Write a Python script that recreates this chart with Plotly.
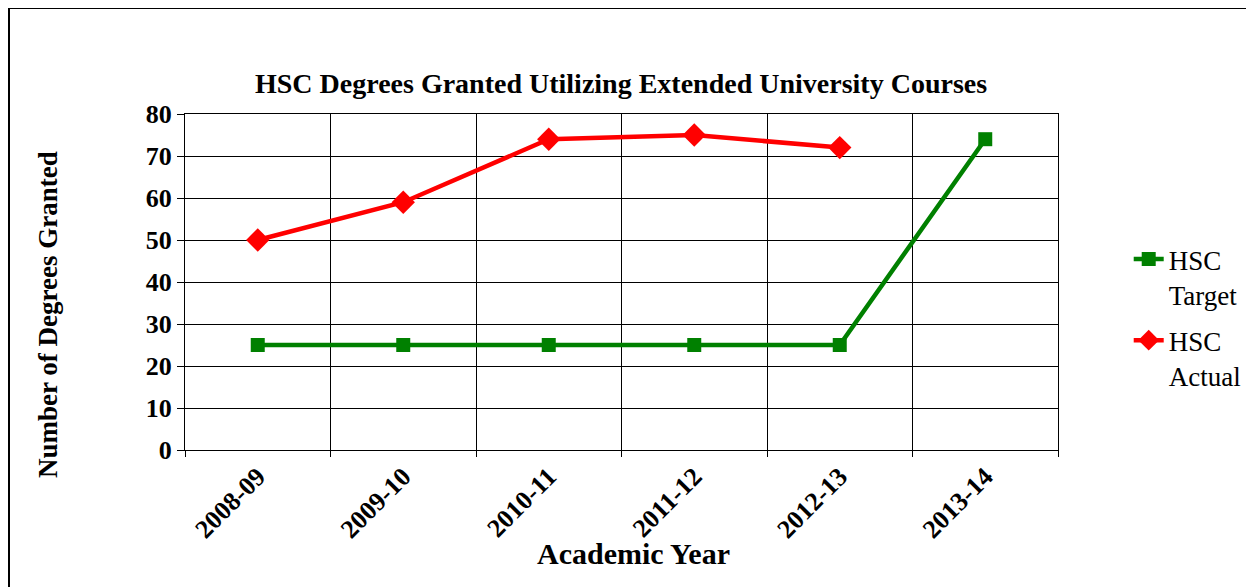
import plotly.graph_objects as go

years = ["2008-09", "2009-10", "2010-11", "2011-12", "2012-13", "2013-14"]
target = [25, 25, 25, 25, 25, 74]
actual = [50, 59, 74, 75, 72, None]

FONT = "Liberation Serif"

fig = go.Figure()
fig.add_trace(go.Scatter(
    x=years, y=target, name="HSC<br>Target", mode="lines+markers",
    legendgroup="t",
    line=dict(color="#008000", width=4.5),
    marker=dict(symbol="square", size=14, color="#008000"),
))
fig.add_trace(go.Scatter(
    x=years, y=actual, name="HSC<br>Actual", mode="lines+markers",
    legendgroup="a",
    line=dict(color="#FF0000", width=4.5),
    marker=dict(symbol="diamond", size=18, color="#FF0000"),
))

# plot area in page pixels: x 185..1058, y 114..450 (page body has 8px margin)
fig.update_layout(
    width=1254, height=587,
    margin=dict(l=177, r=204, t=106, b=145),
    paper_bgcolor="white", plot_bgcolor="white",
    font=dict(family=FONT, color="black"),
    showlegend=True,
    legend=dict(x=1.081, y=0.64, xanchor="left", yanchor="top", valign="top",
                font=dict(family=FONT, size=27, color="black"),
                bgcolor="rgba(0,0,0,0)", tracegroupgap=8),
    annotations=[
        dict(text="<b>HSC Degrees Granted Utilizing Extended University Courses</b>",
             xref="paper", yref="paper", x=0.4995, y=(450 - 83) / 336,
             xanchor="center", yanchor="middle", showarrow=False,
             font=dict(family=FONT, size=28, color="black")),
        dict(text="<b>Academic Year</b>", xref="paper", yref="paper",
             x=(633 - 185) / 873, y=(450 - 553) / 336, xanchor="center", yanchor="middle",
             showarrow=False, font=dict(family=FONT, size=30, color="black")),
        dict(text="<b>Number of Degrees Granted</b>", xref="paper", yref="paper",
             x=(48 - 185) / 873, y=(450 - 315) / 336, xanchor="center", yanchor="middle",
             textangle=-90, showarrow=False, font=dict(family=FONT, size=27, color="black")),
    ],
    shapes=[
        dict(type="rect", xref="paper", yref="paper",
             x0=(9 - 185) / 873, x1=(1290 - 185) / 873,
             y0=(450 - 640) / 336, y1=(450 - 8) / 336,
             line=dict(color="black", width=2), layer="below"),
    ],
)

fig.update_xaxes(
    type="category", tickson="boundaries", ticks="outside", ticklen=6,
    tickcolor="black", tickangle=-45,
    showgrid=True, gridcolor="black", gridwidth=1,
    showline=True, linecolor="black", linewidth=1, mirror=True,
    tickfont=dict(family=FONT, size=26, color="black"),
    range=[-0.5, 5.5], tickprefix="<b>", ticksuffix="</b>",
)
fig.update_yaxes(
    range=[0, 80], dtick=10, ticks="outside", ticklen=7, tickcolor="black",
    showgrid=True, gridcolor="black", gridwidth=1,
    showline=True, linecolor="black", linewidth=1, mirror=True,
    zeroline=False,
    tickfont=dict(family=FONT, size=26, color="black"),
    tickprefix="<b>", ticksuffix="</b>",
)

fig.write_html("out.html")
